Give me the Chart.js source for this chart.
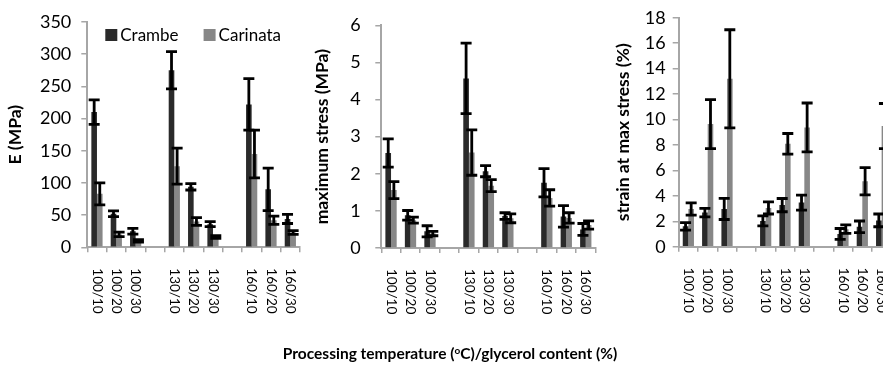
<!DOCTYPE html>
<html>
<head>
<meta charset="utf-8">
<script src="https://cdn.jsdelivr.net/npm/chart.js@4.4.0/dist/chart.umd.min.js"></script>
<style>
  body { margin: 0; background: #fff; width: 883px; height: 365px; overflow: hidden; position: relative; }
  canvas { position: absolute; top: 0; }
  #xtitle { position: absolute; left: 150px; width: 600px; top: 345px; text-align: center;
            font: bold 15.5px Lato, sans-serif; color: #000; line-height: 17px; }
  #xtitle sup { font-size: 10px; vertical-align: 5px; line-height: 0; }
</style>
</head>
<body>
<canvas id="chart_e" width="305" height="365" style="left:0px"></canvas>
<canvas id="chart_stress" width="300" height="365" style="left:300px"></canvas>
<canvas id="chart_strain" width="300" height="365" style="left:597px"></canvas>
<div id="xtitle">Processing temperature (<sup>o</sup>C)/glycerol content (%)</div>

<script>
// categories (blank slots are the gaps between temperature groups)
const categories = ['100/10', '100/20', '100/30', '', '130/10', '130/20', '130/30', '', '160/10', '160/20', '160/30'];

// E (MPa)
const eCrambe = [210, 52, 25, null, 275, 94, 36, null, 222, 90, 44];
const eCrambeErr = [19, 4.5, 4.5, null, 29, 5, 4, null, 40, 33, 7];
const eCarinata = [83, 20, 10, null, 126, 40, 16, null, 145, 42, 23];
const eCarinataErr = [17, 3.5, 2, null, 28, 6, 2, null, 37, 6.5, 3];

// maximum stress (MPa)
const sCrambe = [2.56, 0.88, 0.45, null, 4.57, 2.07, 0.86, null, 1.76, 0.85, 0.5];
const sCrambeErr = [0.38, 0.13, 0.15, null, 0.95, 0.15, 0.09, null, 0.38, 0.29, 0.16];
const sCarinata = [1.56, 0.75, 0.39, null, 2.57, 1.68, 0.8, null, 1.35, 0.81, 0.62];
const sCarinataErr = [0.23, 0.08, 0.06, null, 0.61, 0.16, 0.12, null, 0.22, 0.14, 0.11];

// strain at max stress (%)
const tCrambe = [1.6, 2.68, 2.97, null, 2.03, 3.27, 3.47, null, 1.0, 1.56, 2.07];
const tCrambeErr = [0.3, 0.33, 0.83, null, 0.4, 0.52, 0.59, null, 0.43, 0.46, 0.5];
const tCarinata = [2.97, 9.64, 13.2, null, 3.05, 8.09, 9.38, null, 1.38, 5.15, 9.49];
const tCarinataErr = [0.48, 1.93, 3.86, null, 0.48, 0.81, 1.92, null, 0.33, 1.07, 1.77];

Chart.defaults.font.family = 'Lato';
Chart.defaults.color = '#000';

const axisGray = '#a6a6a6';

// error bars drawn through the y scale
const errorBars = {
    id: 'errorBars',
    afterDatasetsDraw(chart) {
        const ctx = chart.ctx;
        const ys = chart.scales.y;
        ctx.save();
        ctx.strokeStyle = '#000';
        ctx.lineWidth = 2.8;
        chart.data.datasets.forEach((ds, d) => {
            const meta = chart.getDatasetMeta(d);
            meta.data.forEach((bar, i) => {
                const v = ds.data[i];
                const e = ds.errors[i];
                if (v == null || e == null) return;
                const x = bar.x;
                const hi = ys.getPixelForValue(v + e);
                const lo = ys.getPixelForValue(v - e);
                ctx.beginPath();
                ctx.moveTo(x, hi); ctx.lineTo(x, lo);
                ctx.moveTo(x - 5.5, hi); ctx.lineTo(x + 5.5, hi);
                ctx.moveTo(x - 5.5, lo); ctx.lineTo(x + 5.5, lo);
                ctx.stroke();
            });
        });
        ctx.restore();
    }
};

// category labels turned clockwise, read top to bottom
const turnedLabels = {
    id: 'turnedLabels',
    afterDraw(chart) {
        const xs = chart.scales.x;
        const ctx = chart.ctx;
        ctx.save();
        ctx.font = '13.5px Lato';
        ctx.fillStyle = '#000';
        ctx.textAlign = 'left';
        ctx.textBaseline = 'middle';
        chart.data.labels.forEach((lab, i) => {
            if (!lab) return;
            ctx.save();
            ctx.translate(xs.getPixelForTick(i), xs.top + 21);
            ctx.rotate(Math.PI / 2);
            ctx.fillText(lab, 0, 0);
            ctx.restore();
        });
        ctx.restore();
    }
};

// legend sitting inside the first panel
const innerLegend = {
    id: 'innerLegend',
    afterDraw(chart) {
        const ctx = chart.ctx;
        const a = chart.chartArea;
        let x = a.left + 18;
        const y = a.top + 7;
        ctx.save();
        ctx.font = '17px Lato';
        ctx.textBaseline = 'middle';
        ctx.textAlign = 'left';
        chart.data.datasets.forEach(ds => {
            ctx.fillStyle = ds.backgroundColor;
            ctx.fillRect(x, y, 12, 12);
            ctx.fillStyle = '#000';
            ctx.fillText(ds.label, x + 15, y + 6.5);
            x += 15 + ctx.measureText(ds.label).width + 25;
        });
        ctx.restore();
    }
};

function makePanel(id, p) {
    const plugins = [errorBars, turnedLabels];
    if (p.legend) plugins.push(innerLegend);
    return new Chart(document.getElementById(id), {
        type: 'bar',
        data: {
            labels: categories,
            datasets: [{
                label: 'Crambe',
                data: p.crambe,
                errors: p.crambeErr,
                backgroundColor: '#2a2a2a'
            }, {
                label: 'Carinata',
                data: p.carinata,
                errors: p.carinataErr,
                backgroundColor: '#878787'
            }]
        },
        options: {
            responsive: false,
            animation: false,
            categoryPercentage: 0.58,
            barPercentage: 1.0,
            layout: { padding: { top: p.top, right: p.right, left: 0, bottom: 0 } },
            plugins: { legend: { display: false }, tooltip: { enabled: false } },
            scales: {
                x: {
                    ticks: { display: false },
                    grid: { drawOnChartArea: false, drawTicks: true, tickLength: 5, color: axisGray, lineWidth: 1.5, offset: true },
                    border: { color: axisGray, width: 2 },
                    afterFit: s => { s.height = 365 - p.bottom; }
                },
                y: {
                    min: 0,
                    max: p.max,
                    ticks: { stepSize: p.step, padding: p.tickPad, font: { size: 18 } },
                    grid: { drawOnChartArea: false, drawTicks: true, tickLength: 6, color: axisGray, lineWidth: 1.5 },
                    border: { color: axisGray, width: 2 },
                    title: { display: true, text: p.title, font: { size: 17.5, weight: 'bold' }, padding: { top: p.titlePad, bottom: 0 } },
                    afterFit: s => { s.width = p.axisW; }
                }
            }
        },
        plugins: plugins
    });
}

makePanel('chart_e', {
    crambe: eCrambe, crambeErr: eCrambeErr, carinata: eCarinata, carinataErr: eCarinataErr,
    max: 350, step: 50, title: 'E (MPa)', legend: true,
    top: 22, bottom: 247.3, right: 5, axisW: 87.3, tickPad: 10, titlePad: 4.5
});

makePanel('chart_stress', {
    crambe: sCrambe, crambeErr: sCrambeErr, carinata: sCarinata, carinataErr: sCarinataErr,
    max: 6, step: 1, title: 'maximum stress (MPa)',
    top: 19.3, bottom: 248, right: 4.5, axisW: 81.3, tickPad: 14.5, titlePad: 11.5
});

makePanel('chart_strain', {
    crambe: tCrambe, crambeErr: tCrambeErr, carinata: tCarinata, carinataErr: tCarinataErr,
    max: 18, step: 2, title: 'strain at max stress (%)',
    top: 17.3, bottom: 246.7, right: 5.7, axisW: 81.7, tickPad: 7, titlePad: 15.5
});
</script>
</body>
</html>
